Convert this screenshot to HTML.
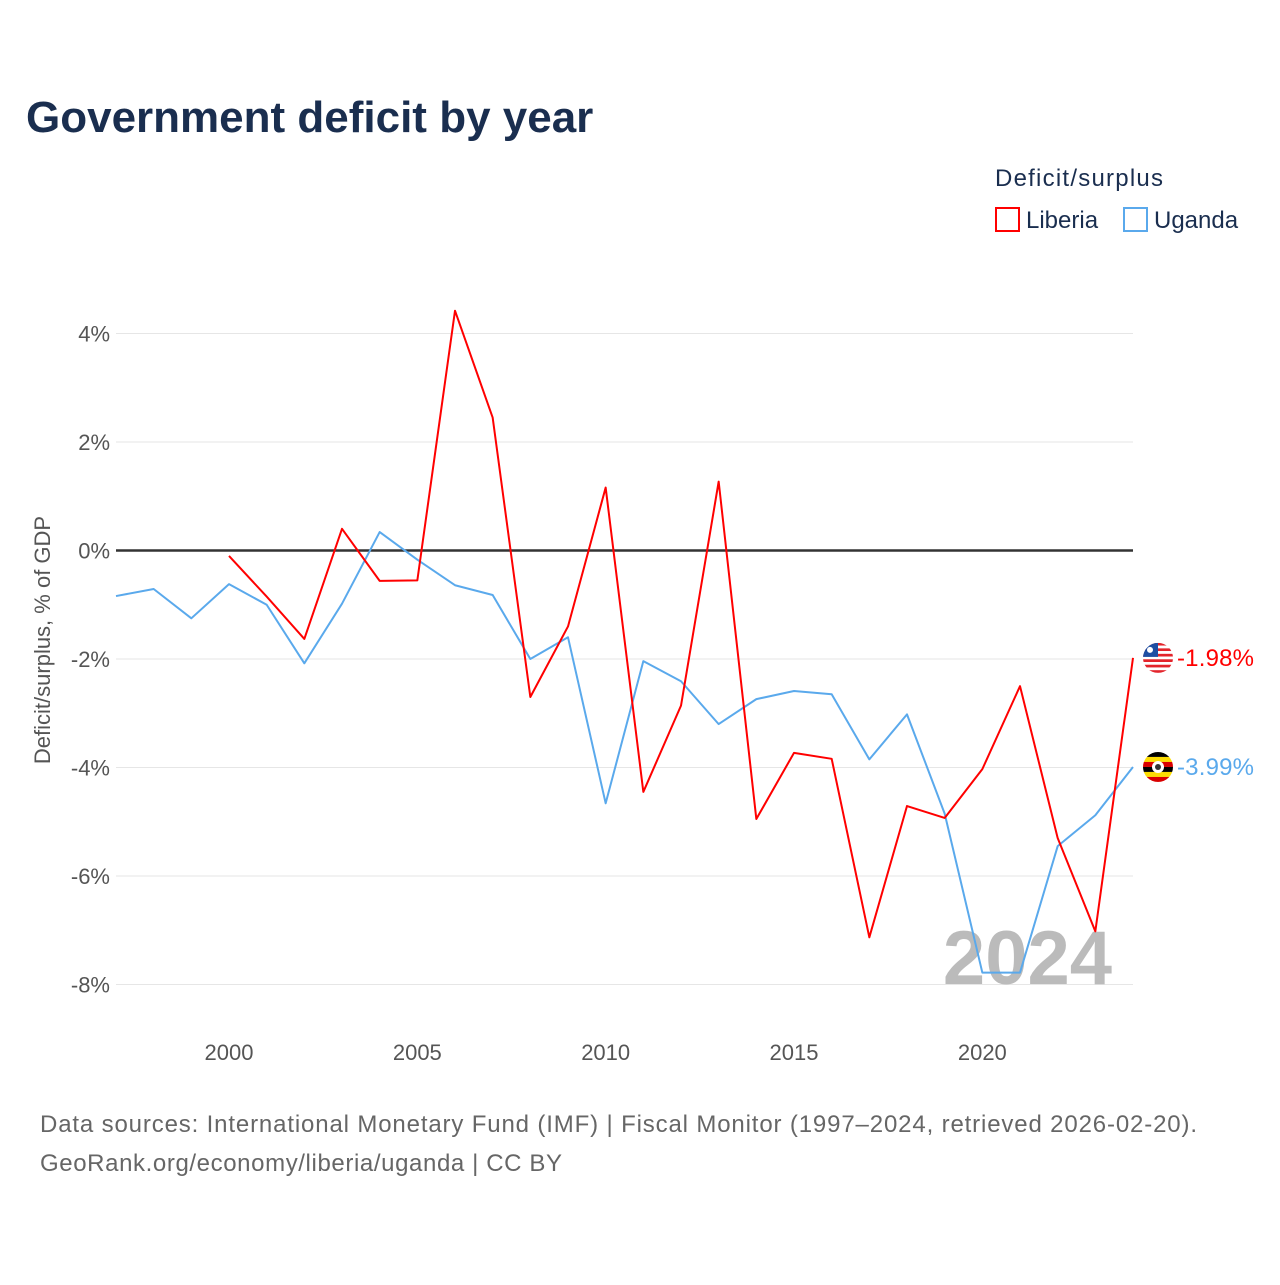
<!DOCTYPE html>
<html><head><meta charset="utf-8"><style>
body{margin:0;background:#fff;font-family:"Liberation Sans",sans-serif}
svg text{font-family:"Liberation Sans",sans-serif}
</style></head><body>
<svg id="c" width="1280" height="1280" xmlns="http://www.w3.org/2000/svg">
<text x="26" y="132" font-size="44" font-weight="bold" fill="#1a2e4f">Government deficit by year</text>
<text x="995" y="186" font-size="24" fill="#1a2e4f" textLength="168">Deficit/surplus</text>
<g><rect x="996" y="208" width="23" height="23" fill="none" stroke="#f00" stroke-width="2"/><text x="1026" y="228" font-size="24" fill="#1a2e4f">Liberia</text></g>
<g><rect x="1124" y="208" width="23" height="23" fill="none" stroke="#5aa9ec" stroke-width="2"/><text x="1154" y="228" font-size="24" fill="#1a2e4f">Uganda</text></g>
<g id="grid"></g>
<g id="yt"></g>
<g id="xt"></g>
<text transform="translate(50,640) rotate(-90)" text-anchor="middle" font-size="22" fill="#555">Deficit/surplus, % of GDP</text>
<text x="1112" y="984" text-anchor="end" font-size="76" font-weight="bold" fill="#bbb">2024</text>
<g id="series"></g>
<text x="40" y="1132" font-size="24" fill="#666" textLength="1157">Data sources: International Monetary Fund (IMF) | Fiscal Monitor (1997–2024, retrieved 2026-02-20).</text>
<text x="40" y="1171" font-size="24" fill="#666" textLength="522">GeoRank.org/economy/liberia/uganda | CC BY</text>
</svg>
<script>
const ugYears=[1997,1998,1999,2000,2001,2002,2003,2004,2005,2006,2007,2008,2009,2010,2011,2012,2013,2014,2015,2016,2017,2018,2019,2020,2021,2022,2023,2024];
const ugValues=[-0.84,-0.71,-1.25,-0.62,-1.0,-2.08,-0.98,0.34,-0.17,-0.64,-0.82,-2.0,-1.6,-4.66,-2.04,-2.41,-3.2,-2.74,-2.59,-2.65,-3.85,-3.02,-4.85,-7.78,-7.78,-5.45,-4.88,-3.99];
const lbYears=[2000,2001,2002,2003,2004,2005,2006,2007,2008,2009,2010,2011,2012,2013,2014,2015,2016,2017,2018,2019,2020,2021,2022,2023,2024];
const lbValues=[-0.1,-0.85,-1.63,0.4,-0.56,-0.55,4.42,2.45,-2.7,-1.4,1.16,-4.45,-2.86,1.27,-4.95,-3.73,-3.84,-7.13,-4.71,-4.93,-4.03,-2.5,-5.3,-7.02,-1.98];
const yTicks=[4,2,0,-2,-4,-6,-8];
const xTicks=[2000,2005,2010,2015,2020];
const NS="http://www.w3.org/2000/svg";
const X=y=>116+(y-1997)*(1133-116)/27;
const Y=v=>550.5-v*54.25;
function mk(t,a,p){const e=document.createElementNS(NS,t);for(const k in a)e.setAttribute(k,a[k]);p.appendChild(e);return e;}
const grid=document.getElementById('grid'),yt=document.getElementById('yt'),xt=document.getElementById('xt'),S=document.getElementById('series');
yTicks.forEach(v=>{
 const l=mk('line',{x1:116,x2:1133,y1:Y(v),y2:Y(v),stroke:v===0?'#333':'#e6e6e6','stroke-width':v===0?2.5:1},grid);
 
 
 const t=mk('text',{x:110,y:Y(v)+8,'text-anchor':'end','font-size':22,fill:'#555'},yt);
 t.textContent=v+'%';
 
 
});
xTicks.forEach(y=>{
 const t=mk('text',{x:X(y),y:1060,'text-anchor':'middle','font-size':22,fill:'#555'},xt);
 t.textContent=y;
 
 
});
function line(xs,vs,col,name){
 const p=mk('polyline',{points:xs.map((y,i)=>X(y)+','+Y(vs[i])).join(' '),fill:'none',stroke:col,'stroke-width':2,'stroke-linejoin':'round'},S);
 
 
}
line(ugYears,ugValues,'#5aa9ec','uganda-line');
line(lbYears,lbValues,'#f00','liberia-line');
function flag(v,kind,col,name){
 const cy=Y(v),cx=1158;
 const g=mk('g',{},S);
 
 
 const id='cl'+kind;
 const cp=mk('clipPath',{id:id},g);mk('circle',{cx:cx,cy:cy,r:15},cp);
 const gg=mk('g',{'clip-path':'url(#'+id+')'},g);
 if(kind==='lb'){
  for(let i=0;i<11;i++)mk('rect',{x:cx-15,y:cy-15+i*30/11,width:30,height:30/11,fill:i%2?'#fff':'#e3242b'},gg);
  mk('rect',{x:cx-15,y:cy-15,width:15,height:14,fill:'#1e4fa3'},gg);
  mk('circle',{cx:cx-8,cy:cy-8,r:3,fill:'#fff'},gg);
 }else{
  const c=['#000','#fcdc04','#d90000','#000','#fcdc04','#d90000'];
  c.forEach((f,i)=>mk('rect',{x:cx-15,y:cy-15+i*5,width:30,height:5,fill:f},gg));
  mk('circle',{cx:cx,cy:cy,r:6,fill:'#fff'},gg);
  mk('circle',{cx:cx,cy:cy,r:3,fill:'#333'},gg);
 }
 const t=mk('text',{x:1177,y:cy+8,'font-size':24,fill:col,textLength:77},S);
 t.textContent=v.toFixed(2)+'%';
 
 
}
flag(lbValues[lbValues.length-1],'lb','#f00','liberia');
flag(ugValues[ugValues.length-1],'ug','#5aa9ec','uganda');
</script>
</body></html>
